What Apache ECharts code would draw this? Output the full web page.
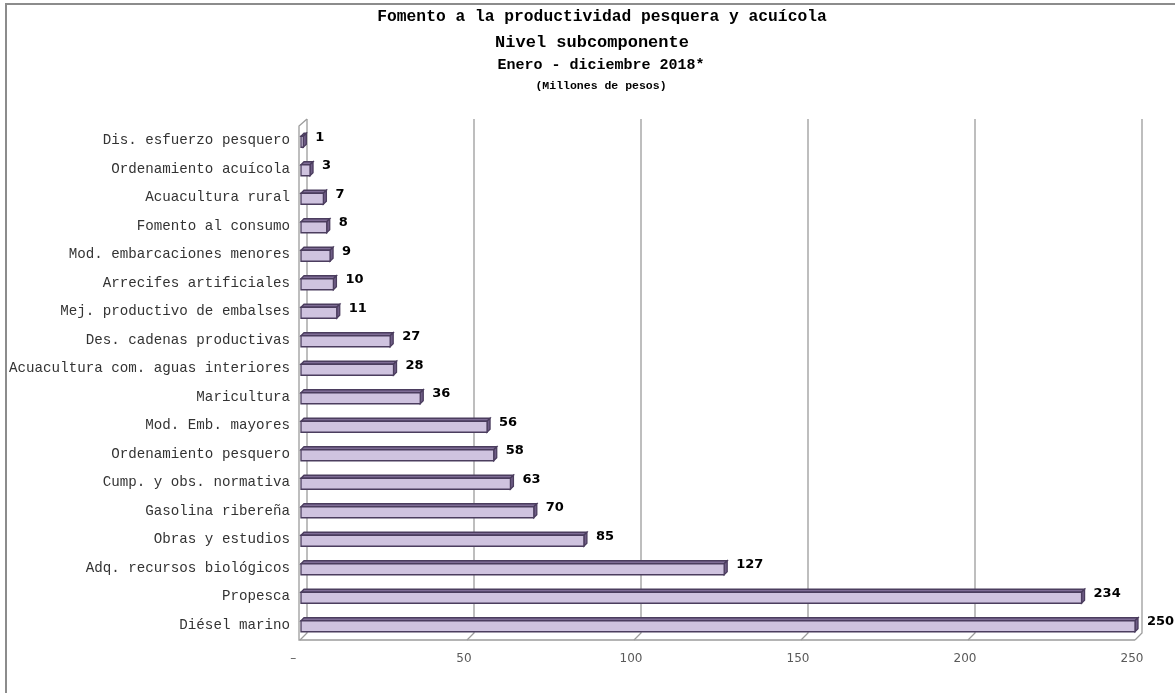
<!DOCTYPE html>
<html>
<head>
<meta charset="utf-8">
<script src="https://cdn.jsdelivr.net/npm/echarts@6/dist/echarts.min.js"></script>
<style>html,body{margin:0;padding:0;background:#fff}#c{width:1175px;height:693px}</style>
</head>
<body>
<div id="c"></div>
<script>
const categories = ["Dis. esfuerzo pesquero","Ordenamiento acuícola","Acuacultura rural","Fomento al consumo","Mod. embarcaciones menores","Arrecifes artificiales","Mej. productivo de embalses","Des. cadenas productivas","Acuacultura com. aguas interiores","Maricultura","Mod. Emb. mayores","Ordenamiento pesquero","Cump. y obs. normativa","Gasolina ribereña","Obras y estudios","Adq. recursos biológicos","Propesca","Diésel marino"];
const values = [1,3,7,8,9,10,11,27,28,36,56,58,63,70,85,127,234,250];
const xTicks = [0,50,100,150,200,250];
const titleLines = ["Fomento a la productividad pesquera y acuícola","Nivel subcomponente","Enero - diciembre 2018*","(Millones de pesos)"];

const chart = echarts.init(document.getElementById('c'));
const WD = 7; // wall depth
const BD = 3; // bar depth
const mono = '"Liberation Mono","Courier New",monospace';

function wallItem(params, api) {
  const t = api.value(0);
  const cs = params.coordSys;
  const x = api.coord([t, 0])[0];
  const top = cs.y, bot = cs.y + cs.height + 1;
  const st = {stroke:'#9c9c9c', lineWidth:1.3, fill:null};
  const ch = [{type:'polyline', shape:{points:[[x+WD, top-WD],[x+WD, bot-WD],[x, bot]]}, style:st, silent:true}];
  if (params.dataIndex === 0) {
    const xe = api.coord([xTicks[xTicks.length-1], 0])[0];
    ch.push({type:'polyline', shape:{points:[[x+WD, top-WD],[x-1, top],[x-1, bot],[xe, bot]]}, style:st, silent:true});
  }
  return {type:'group', children:ch};
}

function barItem(params, api) {
  const v = api.value(0), c = api.value(1);
  const p0 = api.coord([0, c]);
  const p1 = api.coord([v, c]);
  const h = 11;
  const x0 = p0[0] + 1, x1 = p1[0];
  const yT = p0[1] - h/2 + 1.5;
  const border = {stroke:'#4b3d5e', lineWidth:1.3};
  return {type:'group', children:[
    {type:'polygon', shape:{points:[[x0,yT],[x0+BD,yT-BD],[x1+BD,yT-BD],[x1,yT]]}, style:Object.assign({fill:'#7f6d96'}, border)},
    {type:'polygon', shape:{points:[[x1,yT],[x1+BD,yT-BD],[x1+BD,yT-BD+h],[x1,yT+h]]}, style:Object.assign({fill:'#6f5d86'}, border)},
    {type:'rect', shape:{x:x0, y:yT, width:Math.max(x1-x0,1), height:h}, style:Object.assign({fill:'#cfc3df'}, border)},
    {type:'text', style:{text:String(v), x:x1+BD+9, y:p0[1]-3, fill:'#000', font:'bold 13px "DejaVu Sans",sans-serif', textAlign:'left', textVerticalAlign:'middle'}}
  ]};
}

const titleSizes = [16.3,17,15,11.5];
const titleCenters = [18,44,66,87];
const titleX = [602,592,601,601];

chart.setOption({
  animation:false,
  backgroundColor:'#fff',
  title: titleLines.map((t,i)=>({
    text:t, left:titleX[i], textAlign:'center', top:titleCenters[i]-titleSizes[i]/2-1, padding:0,
    textStyle:{fontFamily:mono, fontWeight:'bold', fontSize:titleSizes[i], color:'#000'}
  })),
  graphic:[{type:'rect', shape:{x:6, y:4, width:1400, height:1000}, style:{fill:null, stroke:'#8c8c8c', lineWidth:2}, silent:true}],
  grid:{left:300, right:40, top:126, bottom:54},
  xAxis:{type:'value', min:0, max:250, interval:50,
    axisLine:{show:false}, axisTick:{show:false}, splitLine:{show:false},
    axisLabel:{margin:14, color:'#595959', fontSize:12, fontFamily:'"DejaVu Sans",sans-serif',
      padding:[0,6,0,0], formatter:v=> v===0 ? '–  ' : String(v)}},
  yAxis:{type:'category', data:categories, inverse:true,
    axisLine:{show:false}, axisTick:{show:false}, splitLine:{show:false},
    axisLabel:{margin:10, color:'#333', fontSize:14.2, fontFamily:mono}},
  series:[
    {type:'custom', name:'wall', renderItem:wallItem, data:xTicks.map(t=>[t]), encode:{x:0}, silent:true, z:1, clip:false},
    {type:'custom', name:'Monto', renderItem:barItem, data:values.map((v,i)=>[v,i]), encode:{x:0,y:1}, z:3, clip:false}
  ]
});
</script>
</body>
</html>
